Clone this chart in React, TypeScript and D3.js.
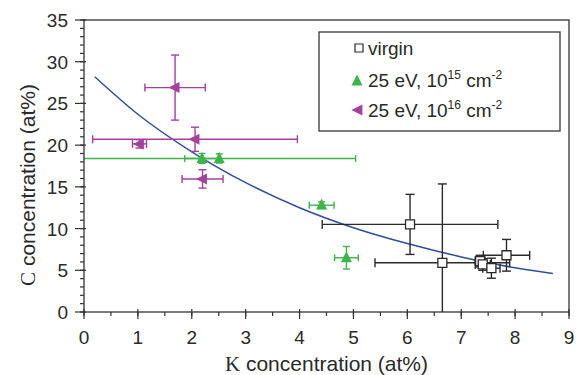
import * as d3 from "d3";

const W = 576;
const H = 375;
const MARGIN = { top: 20, right: 7, bottom: 63, left: 84 };

// virgin samples (squares)
const virginK = [6.05, 6.65, 7.35, 7.4, 7.56, 7.84];
const virginC = [10.5, 5.9, 6.1, 5.7, 5.25, 6.8];
const virginKErr = [1.63, 1.25, 0.09, 0.14, 0.16, 0.43];
const virginCErr = [3.6, 9.45, 0.7, 0.7, 1.2, 1.9];

// 25 eV, 1e15 cm-2 (up triangles)
const lowK = [2.19, 2.51, 4.41, 4.87];
const lowC = [18.4, 18.4, 12.8, 6.5];
const lowKErr = [0.32, 2.53, 0.23, 0.22];
const lowCErr = [0.6, 0.55, 0.4, 1.35];

// 25 eV, 1e16 cm-2 (left triangles)
const highK = [1.69, 1.03, 2.06, 2.2];
const highC = [26.9, 20.15, 20.7, 15.95];
const highKErr = [0.56, 0.13, 1.9, 0.38];
const highCErr = [3.9, 0.5, 1.45, 1.1];

// fitted curve
const fitK = [0.2, 1, 2, 3, 4, 5, 6, 7, 8, 8.7];
const fitC = [28.2, 23.7, 19.2, 15.5, 12.5, 10.1, 8.2, 6.6, 5.3, 4.6];

const xTicks = [0, 1, 2, 3, 4, 5, 6, 7, 8, 9];
const yTicks = [0, 5, 10, 15, 20, 25, 30, 35];

const BLACK = "#2a2a2a";
const GREEN = "#3db54b";
const MAGENTA = "#a5409d";
const BLUE = "#2f4e9c";
const FONT = "'Liberation Sans', Arial, sans-serif";

type SeriesProps = {
  k: number[];
  c: number[];
  kErr: number[];
  cErr: number[];
  color: string;
  cap: number;
};

const ErrorBars = ({ k, c, kErr, cErr, color, cap }: SeriesProps) => {
  return (
    <g stroke={color} strokeWidth={1.4} fill="none">
      {k.map((kv, i) => {
        const cx = xScale(kv);
        const cy = yScale(c[i]);
        const x0 = xScale(kv - kErr[i]);
        const x1 = xScale(kv + kErr[i]);
        const y0 = yScale(c[i] - cErr[i]);
        const y1 = yScale(c[i] + cErr[i]);
        return (
          <g key={i}>
            <line x1={x0} x2={x1} y1={cy} y2={cy} />
            <line x1={x0} x2={x0} y1={cy - cap} y2={cy + cap} />
            <line x1={x1} x2={x1} y1={cy - cap} y2={cy + cap} />
            <line x1={cx} x2={cx} y1={y0} y2={y1} />
            <line x1={cx - cap} x2={cx + cap} y1={y0} y2={y0} />
            <line x1={cx - cap} x2={cx + cap} y1={y1} y2={y1} />
          </g>
        );
      })}
    </g>
  );
};

const xScale = d3
  .scaleLinear()
  .domain([0, 9])
  .range([MARGIN.left, W - MARGIN.right]);
const yScale = d3
  .scaleLinear()
  .domain([0, 35])
  .range([H - MARGIN.bottom, MARGIN.top]);

const square = (x: number, y: number, s: number) =>
  `M${x - s / 2},${y - s / 2}h${s}v${s}h${-s}Z`;
const upTri = (x: number, y: number, s: number) =>
  `M${x},${y - s * 0.6}L${x + s / 2},${y + s * 0.4}L${x - s / 2},${y + s * 0.4}Z`;
const leftTri = (x: number, y: number, s: number) =>
  `M${x - s * 0.6},${y}L${x + s * 0.4},${y - s / 2}L${x + s * 0.4},${y + s / 2}Z`;

export default function App() {
  const x0 = xScale.range()[0];
  const x1 = xScale.range()[1];
  const yBottom = yScale.range()[0];
  const yTop = yScale.range()[1];

  const line = d3
    .line<number>()
    .x((d) => xScale(d))
    .y((_, i) => yScale(fitC[i]))
    .curve(d3.curveMonotoneX);

  const xMinor = d3.range(0, 9.01, 0.5);
  const yMinor = d3.range(0, 35.01, 1);

  return (
    <svg
      width={W}
      height={H}
      style={{ position: "absolute", left: 0, top: 0, background: "#fff" }}
      fontFamily={FONT}
    >
      <defs>
        <clipPath id="plot">
          <rect x={x0} y={yTop} width={x1 - x0} height={yBottom - yTop} />
        </clipPath>
      </defs>

      <g clipPath="url(#plot)">
        <path d={line(fitK) || ""} fill="none" stroke={BLUE} strokeWidth={1.5} />
        <ErrorBars k={virginK} c={virginC} kErr={virginKErr} cErr={virginCErr} color={BLACK} cap={4.5} />
        <ErrorBars k={lowK} c={lowC} kErr={lowKErr} cErr={lowCErr} color={GREEN} cap={3.5} />
        <ErrorBars k={highK} c={highC} kErr={highKErr} cErr={highCErr} color={MAGENTA} cap={4} />
        {virginK.map((k, i) => (
          <path key={"v" + i} d={square(xScale(k), yScale(virginC[i]), 9)} fill="#fff" stroke={BLACK} strokeWidth={1.3} />
        ))}
        {lowK.map((k, i) => (
          <path key={"l" + i} d={upTri(xScale(k), yScale(lowC[i]), 11)} fill={GREEN} />
        ))}
        {highK.map((k, i) => (
          <path key={"h" + i} d={leftTri(xScale(k), yScale(highC[i]), 11)} fill={MAGENTA} />
        ))}
      </g>

      {/* frame */}
      <rect x={x0} y={yTop} width={x1 - x0} height={yBottom - yTop} fill="none" stroke="#333" strokeWidth={1.3} />

      {/* x axis ticks */}
      <g stroke="#333" strokeWidth={1.2}>
        {xMinor.map((t) => (
          <line key={"xm" + t} x1={xScale(t)} x2={xScale(t)} y1={yBottom} y2={yBottom + 4} />
        ))}
        {xTicks.map((t) => (
          <line key={"xt" + t} x1={xScale(t)} x2={xScale(t)} y1={yBottom - 3} y2={yBottom + 7} />
        ))}
        {yMinor.map((t) => (
          <line key={"ym" + t} x1={x0 - 4} x2={x0} y1={yScale(t)} y2={yScale(t)} />
        ))}
        {yTicks.map((t) => (
          <line key={"yt" + t} x1={x0 - 9} x2={x0 + 2} y1={yScale(t)} y2={yScale(t)} />
        ))}
      </g>
      <g fill={BLACK} fontSize={19}>
        {xTicks.map((t) => (
          <text key={"xl" + t} x={xScale(t)} y={344} textAnchor="middle">
            {t}
          </text>
        ))}
        {yTicks.map((t) => (
          <text key={"yl" + t} x={68} y={yScale(t) + 7} textAnchor="end">
            {t}
          </text>
        ))}
      </g>

      {/* axis titles */}
      <text x={(x0 + x1) / 2} y={371} textAnchor="middle" fontSize={21} fill={BLACK}>
        <tspan fontFamily="'Liberation Serif', 'Times New Roman', serif">K</tspan> concentration (at%)
      </text>
      <text
        transform={`translate(35,185) rotate(-90)`}
        textAnchor="middle"
        fontSize={21}
        fill={BLACK}
      >
        <tspan fontFamily="'Liberation Serif', 'Times New Roman', serif">C</tspan> concentration (at%)
      </text>

      {/* legend */}
      <g>
        <rect x={319} y={32} width={241} height={99} fill="#fff" stroke="#444" strokeWidth={1.4} />
        <path d={square(359, 48, 8)} fill="#fff" stroke={BLACK} strokeWidth={1.2} />
        <text x={368} y={55} fontSize={19} fill={BLACK}>virgin</text>
        <path d={upTri(357, 81, 11)} fill={GREEN} />
        <text x={368} y={87} fontSize={19} fill={BLACK}>
          25 eV, 10<tspan fontSize={12} dy={-8}>15</tspan>
          <tspan dy={8}> cm</tspan>
          <tspan fontSize={12} dy={-8}>-2</tspan>
        </text>
        <path d={leftTri(358, 110, 11)} fill={MAGENTA} />
        <text x={368} y={117} fontSize={19} fill={BLACK}>
          25 eV, 10<tspan fontSize={12} dy={-8}>16</tspan>
          <tspan dy={8}> cm</tspan>
          <tspan fontSize={12} dy={-8}>-2</tspan>
        </text>
      </g>
    </svg>
  );
}
